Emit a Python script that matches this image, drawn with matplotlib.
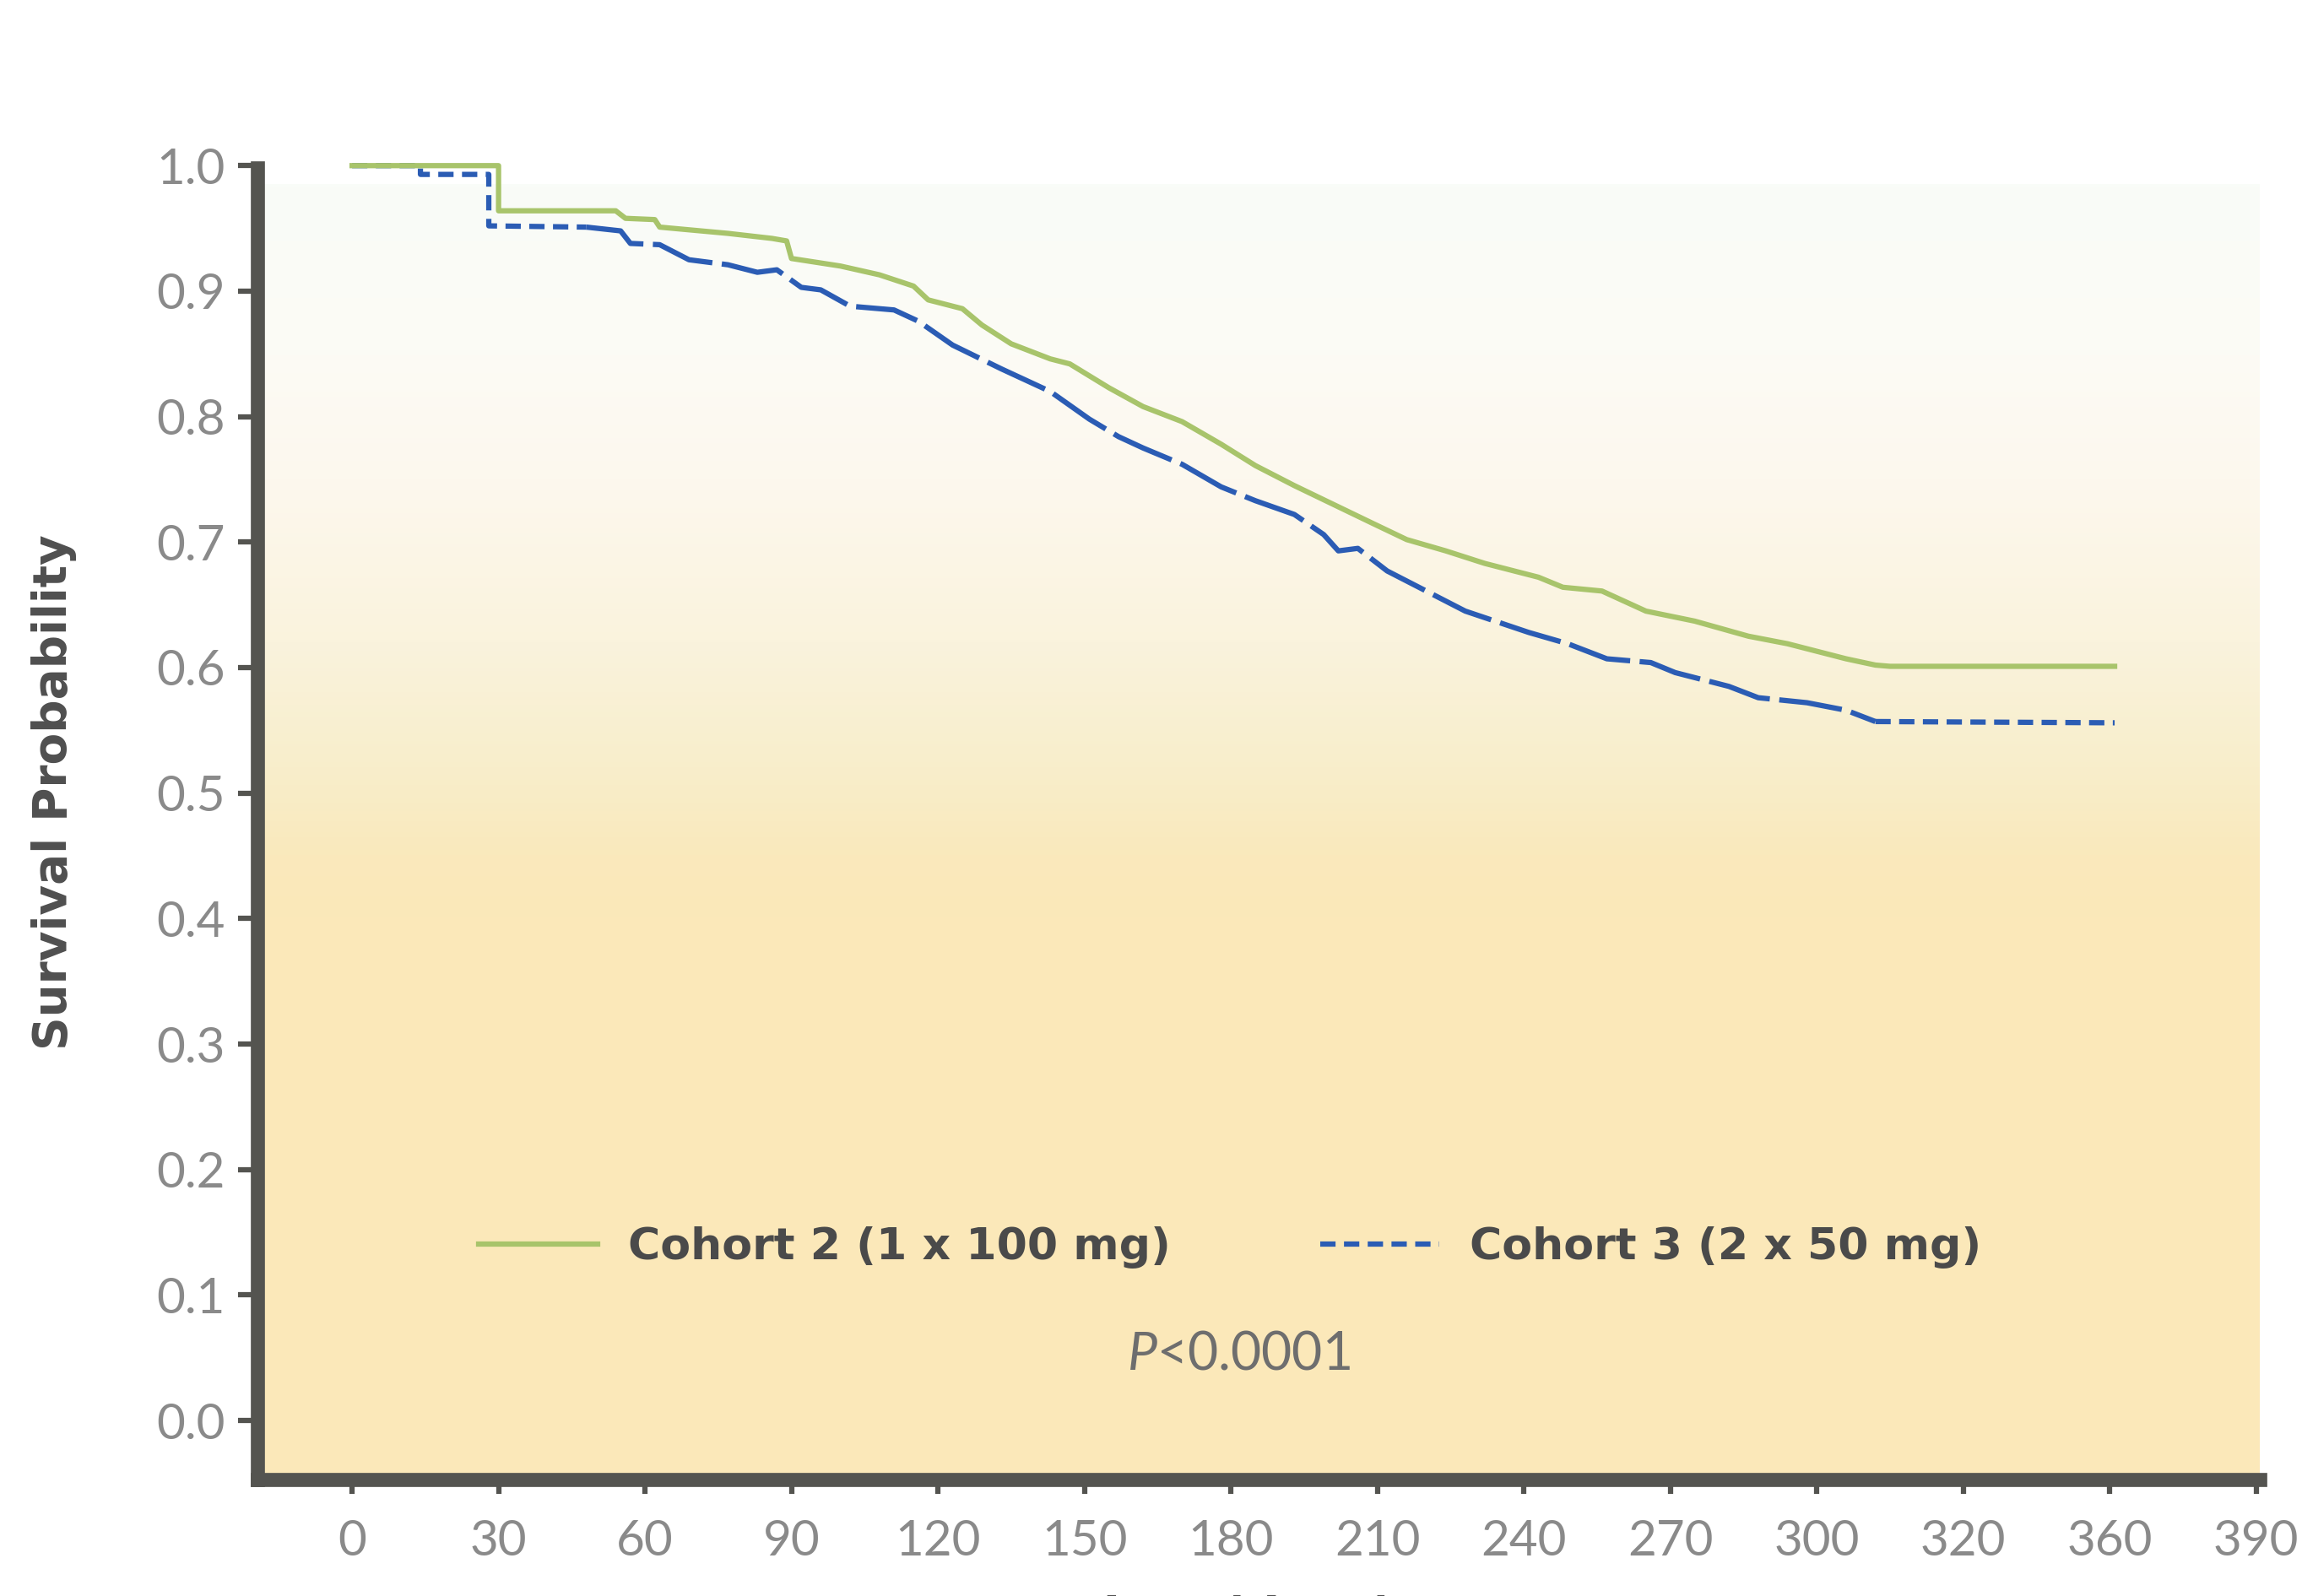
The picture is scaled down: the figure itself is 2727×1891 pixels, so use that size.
import numpy as np
import matplotlib
matplotlib.use('Agg')
import matplotlib.pyplot as plt
from matplotlib.lines import Line2D

plt.rcParams['font.family'] = ['Lato', 'DejaVu Sans']
plt.rcParams['mathtext.fontset'] = 'custom'
plt.rcParams['mathtext.rm'] = 'Lato'
plt.rcParams['mathtext.it'] = 'Lato:italic'

# survival curves (days, probability)
c2_days = [0, 30, 30, 54, 56, 62, 63, 77, 86, 89, 90, 100, 108, 115, 118, 125, 129,
           135, 143, 147, 155, 162, 170, 178, 185, 193, 201, 209, 216, 224, 232,
           243, 248, 256, 265, 275, 286, 294, 306, 312, 315, 361]
c2_surv = [1.0, 1.0, 0.964, 0.964, 0.958, 0.957, 0.951, 0.946, 0.942, 0.940, 0.926,
           0.920, 0.913, 0.904, 0.893, 0.886, 0.873, 0.858, 0.846, 0.842, 0.823,
           0.808, 0.796, 0.778, 0.761, 0.745, 0.730, 0.715, 0.702, 0.693, 0.683,
           0.672, 0.664, 0.661, 0.645, 0.637, 0.625, 0.619, 0.607, 0.602, 0.601, 0.601]

c3_days = [0, 14, 14, 28, 28, 48, 55, 57, 63, 69, 77, 83, 87, 92, 96, 102, 111, 116,
           123, 133, 143, 151, 157, 162, 170, 178, 185, 193, 199, 202, 206, 212,
           220, 228, 241, 249, 257, 266, 271, 282, 288, 298, 306, 312, 361]
c3_surv = [1.0, 1.0, 0.993, 0.993, 0.952, 0.951, 0.948, 0.938, 0.937, 0.925, 0.921,
           0.915, 0.917, 0.903, 0.901, 0.888, 0.885, 0.876, 0.857, 0.838, 0.820,
           0.798, 0.784, 0.775, 0.762, 0.744, 0.733, 0.722, 0.706, 0.693, 0.695,
           0.677, 0.661, 0.645, 0.628, 0.619, 0.607, 0.604, 0.596, 0.585, 0.576,
           0.572, 0.566, 0.557, 0.556]

series_labels = ['Cohort 2 (1 x 100 mg)', 'Cohort 3 (2 x 50 mg)']
x_ticks = list(range(0, 391, 30))
x_ticklabels = ['0', '30', '60', '90', '120', '150', '180', '210', '240', '270',
                '300', '320', '360', '390']
y_ticks = [0.0, 0.1, 0.2, 0.3, 0.4, 0.5, 0.6, 0.7, 0.8, 0.9, 1.0]
y_ticklabels = ['0.0', '0.1', '0.2', '0.3', '0.4', '0.5', '0.6', '0.7', '0.8', '0.9', '1.0']

green = '#a8c46b'
blue = '#2b5cb4'
axis_col = '#545450'
short_dash = (2.9, 1.6)
long_dash = (12, 1.8)

fig = plt.figure(figsize=(27.27, 18.91), dpi=100)
ax = fig.add_axes([0.1118, 0.0730, 0.8698, 0.8704])
xlo, xhi = -19.4, 390.7
ylo, yhi = -0.047, 1.06

# background gradient, white at top to pale yellow at bottom
g_pos = [ylo, 0.40, 0.45, 0.52, 0.62, 0.75, 0.85, 0.985]
g_col = ['#fbe8b9', '#fbe8b9', '#fae9bc', '#f8eecb', '#faf3dd', '#fdf8ee', '#fcfbf5', '#f9fcf8']
yy = np.linspace(ylo, 0.985, 500)
rgb = np.array([matplotlib.colors.to_rgb(c) for c in g_col])
img = np.stack([np.interp(yy, g_pos, rgb[:, i]) for i in range(3)], axis=-1)[:, None, :]
ax.imshow(img, origin='lower', extent=[xlo, xhi, ylo, 0.985], aspect='auto', zorder=0)

# cohort 3: short dashes on the flat parts, the many small steps look almost solid
i0 = c3_days.index(48) + 1
i1 = c3_days.index(312) + 1
ax.plot(c3_days[:i0], c3_surv[:i0], color=blue, lw=4.5, dashes=short_dash, zorder=3)
ax.plot(c3_days[i0 - 1:i1], c3_surv[i0 - 1:i1], color=blue, lw=4.5, dashes=long_dash, zorder=3)
ax.plot(c3_days[i1 - 1:], c3_surv[i1 - 1:], color=blue, lw=4.5, dashes=short_dash, zorder=3)
ax.plot(c2_days, c2_surv, color=green, lw=4.5, zorder=4)

ax.set_xlim(xlo, xhi)
ax.set_ylim(ylo, yhi)
ax.patch.set_visible(False)

for s in ['top', 'right']:
    ax.spines[s].set_visible(False)
for s in ['left', 'bottom']:
    ax.spines[s].set_linewidth(12)
    ax.spines[s].set_color(axis_col)
ax.spines['left'].set_bounds(ylo, 0.998)

ax.set_xticks(x_ticks)
ax.set_xticklabels(x_ticklabels)
ax.set_yticks(y_ticks)
ax.set_yticklabels(y_ticklabels)
ax.tick_params(axis='x', length=12, width=4.5, color=axis_col, pad=22,
               labelsize=42, labelcolor='#8a8a8a')
ax.tick_params(axis='y', length=16.5, width=4.5, color=axis_col, pad=11,
               labelsize=42, labelcolor='#8a8a8a')

handles = [Line2D([], [], color=green, lw=4.5),
           Line2D([], [], color=blue, lw=4.5, dashes=short_dash)]
ax.legend(handles, series_labels, loc='center left', bbox_to_anchor=(0.1105, 0.167),
          bbox_transform=ax.transAxes, ncol=2, frameon=False, borderpad=0,
          borderaxespad=0, handlelength=2.7, handletextpad=0.7, columnspacing=3.4,
          prop={'family': 'DejaVu Sans', 'weight': 'bold', 'size': 37.5},
          labelcolor='#4a4a4a')

ax.text(0.490, 0.090, r'$\mathit{P}$<0.0001', transform=ax.transAxes, ha='center',
        va='center', fontsize=45, color='#6e6e6e')

fig.text(64 / 2727, 1 - 939 / 1891, 'Survival Probability', rotation=90, ha='center',
         va='center', fontsize=39.5, fontweight='bold', color='#4f4f4f',
         family='DejaVu Sans')
# x label sits mostly below the bottom edge, as in the source image
fig.text(1460 / 2727, 1 - 1890 / 1891, 'Time (days)', ha='center', va='top',
         fontsize=42, fontweight='bold', color='#4f4f4f', family='DejaVu Sans')

fig.savefig('out.png', dpi=100, facecolor='white')
